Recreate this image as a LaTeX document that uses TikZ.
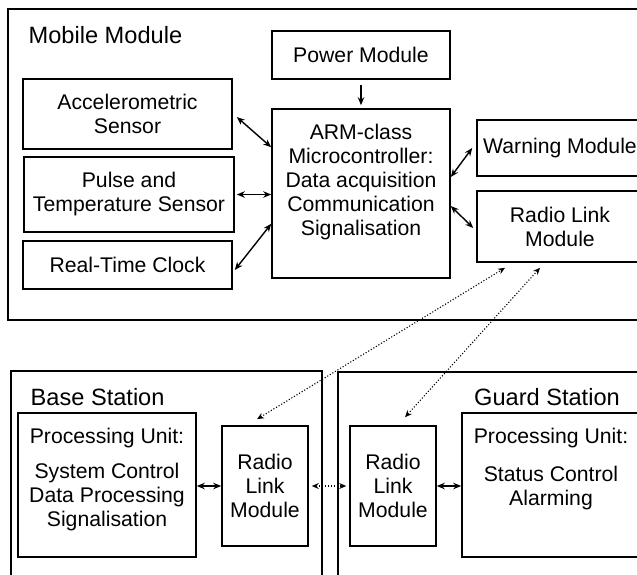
\documentclass[tikz,border=0pt]{standalone}
\usepackage{fontspec}
\setmainfont{Liberation Sans}
\usetikzlibrary{arrows.meta}

\begin{document}
\begin{tikzpicture}[x=1pt,y=-1pt,
  txt/.style={align=center,inner sep=0pt,font=\fontsize{21.2}{24}\selectfont},
  blk/.style={draw,line width=1.6pt,txt},
  frm/.style={draw,line width=1.6pt,inner sep=0pt},
  ttl/.style={anchor=base west,inner sep=0pt,font=\fontsize{23.6}{28}\selectfont},
  lnk/.style={line width=1.4pt,{Stealth[length=8pt,width=6.5pt]}-{Stealth[length=8pt,width=6.5pt]}},
  rad/.style={line width=1.1pt,dash pattern=on 1.1pt off 1.9pt,{Stealth[length=7pt,width=6pt]}-{Stealth[length=7pt,width=6pt]}}]
\clip (0,0) rectangle (637,574);

% frames
\node[frm,minimum width=645,minimum height=311] (M) at (330.5,164.5) {};
\node[frm,minimum width=311,minimum height=240] (B) at (166.5,491) {};
\node[frm,minimum width=320,minimum height=240] (G) at (498,492) {};
\node[ttl] (t1) at (28.5,43) {Mobile Module};
\node[ttl] (t2) at (30.5,405) {Base Station};
\node[ttl,anchor=base east] (t3) at (620,405) {Guard Station};

% mobile module
\node[blk,minimum width=178,minimum height=48] (1) at (361,55) {Power Module};
\node[blk,minimum width=178,minimum height=169,
  label={[txt,anchor=north,yshift=-15.5]north:{ARM-class\\Microcontroller:\\Data acquisition\\Communication\\Signalisation}}] (2) at (361,193.5) {};
\node[blk,minimum width=209,minimum height=70] (3) at (127.5,114) {Accelerometric\\Sensor};
\node[blk,minimum width=210,minimum height=75] (4) at (129,194.5) {Pulse and\\Temperature Sensor};
\node[blk,minimum width=209,minimum height=48] (5) at (127.5,265) {Real-Time Clock};
\node[blk,minimum width=166,minimum height=56] (6) at (560,148) {Warning Module};
\node[blk,minimum width=166,minimum height=71] (7) at (560,226.5) {Radio Link\\Module};

% stations
\node[blk,minimum width=178,minimum height=144,
  label={[txt,anchor=north,yshift=-16]north:{Processing Unit:\\[11pt]System Control\\Data Processing\\Signalisation}}] (8) at (107,485) {};
\node[blk,minimum width=86,minimum height=120] (9) at (265,486) {Radio\\Link\\Module};
\node[blk,minimum width=86,minimum height=120] (10) at (393,486) {Radio\\Link\\Module};
\node[blk,minimum width=178,minimum height=144,
  label={[txt,anchor=north,yshift=-16]north:{Processing Unit:\\[14pt]Status Control\\Alarming}}] (11) at (551,485) {};

\draw[line width=1.4pt,-{Stealth[length=8pt,width=6.5pt]}] ([yshift=-5]1.south) -- ([yshift=3]2.north);
\draw[lnk] ([shift={(4,3)}]3.east) -- ([shift={(0,39)}]2.north west);
\draw[lnk] ([xshift=2]4.east) -- (4.east -| 2.west);
\draw[lnk] ([shift={(2,5)}]5.east) -- ([shift={(0,-55)}]2.south west);
\draw[lnk] ([shift={(0,-16.5)}]2.east) -- ([shift={(-4,0)}]6.west);
\draw[lnk] ([shift={(0,12.5)}]2.east) -- ([shift={(-3,1.5)}]7.west);

\draw[rad] ([shift={(-8,-6)}]9.north) -- ([shift={(-55,5)}]7.south);
\draw[rad] ([shift={(12,-8)}]10.north) -- ([shift={(-20,5)}]7.south);
\draw[rad] ([xshift=3]9.east) -- ([xshift=-3]10.west);
\draw[lnk] (9.west -| 8.east) -- (9.west);
\draw[lnk] (10.east) -- (10.east -| 11.west);
\end{tikzpicture}
\end{document}
